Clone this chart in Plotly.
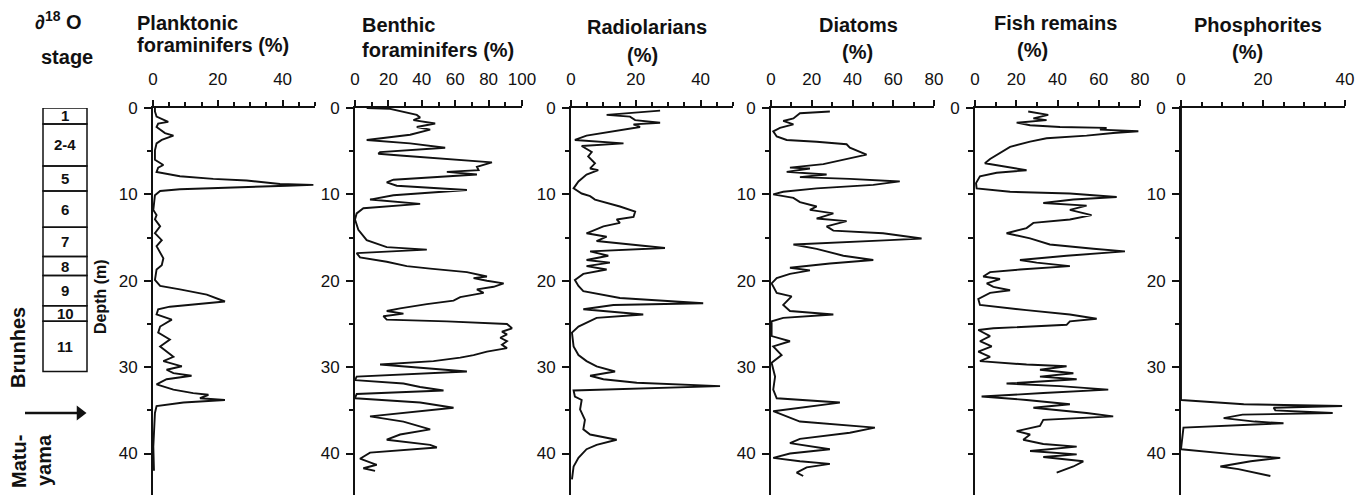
import plotly.graph_objects as go

W, H = 1365, 495

# ---------------- data ----------------
plank_depth = [0.0, 0.4, 1.0, 1.6, 1.8, 2.2, 2.9, 3.2, 3.7, 4.1, 4.9, 6.0, 6.6, 6.9, 7.4, 7.9, 8.2, 8.4, 8.8, 8.9,
               9.0, 9.2, 9.4, 9.6, 10.1, 11.8, 12.4, 12.9, 13.7, 14.5, 15.3, 16.0, 17.4, 18.2, 18.7, 19.9, 20.6,
               21.0, 21.6, 22.4, 22.7, 23.0, 23.3, 23.9, 24.5, 25.3, 26.0, 26.8, 27.6, 28.2, 28.8, 29.3, 29.9,
               30.3, 30.7, 31.0, 31.4, 32.0, 32.6, 33.0, 33.2, 33.6, 33.8, 34.1, 34.5, 35.3, 37.2, 39.2, 42.0]
plank_pct = [0.6, 0.6, 1.1, 4.7, 1.6, 1.1, 3.7, 6.3, 2.7, 1.1, 0.6, 0.6, 3.2, 1.6, 1.1, 8.3, 18.6, 28.9, 39.2, 49.5,
             41.3, 23.8, 8.3, 2.2, 0.6, 0.1, 1.1, 0.6, 2.2, 0.6, 2.7, 1.1, 3.2, 2.7, 1.1, 0.6, 2.2,
             8.3, 16.6, 22.2, 13.5, 5.2, 1.6, 1.1, 5.8, 2.2, 1.6, 5.2, 2.2, 4.2, 6.3, 3.2, 8.9,
             4.2, 6.3, 11.9, 4.2, 1.1, 6.3, 12.4, 17.1, 14.5, 22.2, 9.4, 1.1, 0.6, 0.3, 0.1, 0.3]

benth_depth = [0.0, 0.1, 0.8, 1.1, 1.4, 1.8, 2.2, 2.5, 3.1, 3.7, 4.1, 4.6, 5.1, 5.3, 5.5, 6.0, 6.3, 6.8, 7.2, 7.4,
               7.7, 8.3, 8.6, 9.0, 9.5, 10.1, 10.6, 11.1, 11.6, 12.2, 12.9, 14.1, 15.3, 16.1, 16.4, 16.8, 17.3,
               17.8, 18.3, 18.6, 19.0, 19.5, 19.7, 20.0, 20.3, 20.7, 21.0, 21.4, 21.9, 22.3, 22.7, 23.2, 23.5,
               23.8, 24.1, 24.5, 24.7, 25.0, 25.5, 25.9, 26.2, 26.6, 27.0, 27.4, 27.8, 28.2, 28.6, 28.9, 29.3,
               29.7, 30.5, 31.1, 31.5, 31.9, 32.3, 32.7, 33.1, 33.6, 34.1, 34.7, 35.7, 36.3, 37.2, 37.8, 38.4,
               39.0, 39.3, 39.9, 40.6, 41.3, 41.7, 42.0]
benth_pct = [7, 21, 37, 39, 35, 48, 37, 45, 33, 7, 33, 54, 15, 14, 27, 59, 82, 73, 74, 55,
             73, 23, 19, 25, 67, 23, 9, 39, 5, 1, 0, 2, 7, 19, 43, 1, 3,
             19, 31, 45, 67, 79, 71, 79, 89, 83, 73, 77, 63, 59, 43, 27, 19,
             29, 17, 19, 55, 91, 94, 88, 91, 87, 91, 88, 91, 79, 71, 63, 47,
             15, 67, 1, 0, 29, 39, 53, 1, 0, 39, 59, 9, 29, 45, 27, 19,
             45, 49, 9, 3, 13, 5, 12]

radio_depth = [0.3, 0.8, 1.0, 1.4, 1.7, 1.9, 2.2, 2.5, 2.8, 3.2, 3.7, 4.1, 4.4, 5.1, 5.6, 6.4, 7.0, 7.2, 7.7,
               8.5, 9.3, 9.9, 10.2, 10.6, 11.4, 12.0, 12.6, 12.9, 13.3, 13.7, 14.5, 14.9, 15.4, 16.2, 16.6,
               17.1, 17.6, 17.9, 18.3, 18.7, 19.2, 19.9, 20.6, 21.2, 22.0, 22.6, 22.8, 23.3, 23.9, 24.3, 25.3,
               26.0, 27.6, 28.6, 29.3, 29.9, 30.5, 31.0, 31.4, 31.8, 32.2, 32.4, 32.7, 33.4, 33.8, 34.9, 36.1,
               37.2, 37.8, 38.4, 39.0, 39.5, 40.5, 41.5, 43.0]
radio_pct = [27.5, 11, 18.2, 19.8, 27.5, 19.3, 21.3, 16.2, 11, 4.8, 1.2, 16.2, 3.3, 6.4, 5.3, 7.4, 5.9, 8.4, 4.8,
             2.3, 0.8, 3.3, 5.9, 7.4, 15.1, 19.8, 19.3, 14.1, 15.1, 10, 4.8, 11, 7.9, 29, 5.9,
             11.5, 4.8, 12, 4.8, 11, 3.8, 1.2, 2.3, 3.8, 15.1, 40.8, 13.1, 3.8, 22.3, 7.9, 2.3,
             0.3, 0.8, 2.3, 4.8, 7.9, 13.6, 5.9, 10, 20.3, 46, 30.6, 0.8, 1.2, 3.3, 2.8, 4.3,
             3.8, 5.9, 14.1, 7.9, 4.8, 2.3, 0.8, 0.3]

diat_depth = [0.4, 0.6, 1.2, 1.5, 1.9, 2.3, 2.7, 3.3, 3.7, 3.9, 4.2, 4.6, 5.4, 5.9, 6.5, 6.9, 7.0, 7.4, 7.7, 8.0,
              8.2, 8.5, 8.9, 9.3, 9.7, 10.0, 10.4, 10.9, 11.4, 11.8, 12.2, 12.8, 13.1, 13.7, 14.2, 14.5, 15.1,
              15.3, 15.8, 16.3, 17.1, 17.6, 18.0, 18.5, 18.8, 19.2, 19.7, 20.3, 21.4, 21.8, 22.8, 23.5, 23.9,
              24.3, 24.7, 26.4, 27.0, 27.6, 28.6, 29.5, 31.1, 32.6, 33.6, 34.1, 35.1, 36.3, 36.8, 37.0, 37.6,
              38.3, 38.8, 39.5, 40.0, 40.5, 40.9, 41.2, 41.6, 42.2, 42.6]
diat_pct = [28.9, 14.2, 11, 6, 11, 4.4, 1.1, 2.8, 7.7, 22.4, 37.1, 38.7, 46.9, 37.1, 25.7, 9.3, 19.1, 7.7, 27.3, 14.2,
            38.7, 63.2, 50.2, 22.4, 6, 1.1, 11, 14.2, 22.4, 19.1, 30.6, 22.4, 37.1, 27.3, 30.6, 55, 73.9,
            58.3, 11, 22.4, 35.5, 50.2, 28.9, 9.3, 19.1, 9.3, 2.8, 0.3, 2.8, 10.1, 6, 9.3, 30.6,
            6, 0.3, 0.3, 9.3, 1.1, 5.2, 0.3, 2, 1.1, 2.8, 33.8, 1.1, 14.2, 38.7, 51, 38.7,
            14.2, 9.3, 28.9, 9.3, 1.1, 14.2, 28.9, 17.5, 12.6, 15.8]

fish_depth = [0.4, 0.8, 1.2, 1.4, 1.7, 2.0, 2.2, 2.3, 2.5, 2.7, 2.9, 3.2, 3.5, 3.9, 4.5, 5.2, 5.9, 6.4, 6.8, 7.2,
              7.5, 7.9, 8.7, 9.3, 9.7, 9.9, 10.3, 10.6, 11.0, 11.3, 11.8, 12.4, 12.9, 13.3, 13.9, 14.5, 15.1,
              15.8, 16.3, 16.6, 17.1, 17.6, 17.9, 18.3, 18.7, 19.0, 19.5, 19.8, 20.3, 20.7, 21.1, 21.4, 22.1,
              22.8, 23.4, 23.9, 24.4, 24.7, 25.1, 25.5, 25.7, 26.4, 27.0, 27.6, 28.2, 28.8, 29.3, 29.7, 29.9,
              30.3, 30.7, 31.1, 31.4, 31.9, 32.2, 32.6, 33.0, 33.4, 33.8, 34.3, 34.7, 35.3, 35.7, 36.1, 36.8,
              37.4, 37.8, 38.4, 38.9, 39.2, 39.7, 40.1, 40.4, 40.9, 41.5, 42.2]
fish_pct = [25.8, 35.5, 28.3, 34.7, 20.2, 26.7, 41.2, 63.8, 60.6, 79.2, 67, 54.1, 34.7, 26.7, 17, 12.1, 7.3, 4.8, 15.3, 25,
            10.5, 2.4, 0.5, 0.8, 17, 46, 68.7, 47.7, 33.1, 54.1, 46, 56.5, 46, 28.3, 25, 15.3, 26.7,
            36.3, 57.4, 72.7, 44.4, 21.8, 29.9, 46, 21.8, 7.3, 4, 12.1, 5.7, 8.9, 17, 7.3, 1.6,
            2.4, 25, 46, 59, 46, 44.4, 8.9, 1.6, 7.3, 2.4, 8.1, 1.6, 7.3, 2.4, 25, 44.4,
            31.5, 47.7, 31.5, 49.3, 15.3, 41.2, 64.6, 33.1, 3.2, 25, 46, 28.3, 54.1, 67, 33.1, 31.5,
            20.2, 26.7, 23.4, 33.1, 49.3, 26.7, 49.3, 33.1, 52.5, 47.7, 39.6]

phos_depth = [0.0, 33.8, 34.3, 34.5, 34.7, 35.0, 35.3, 35.5, 35.9, 36.3, 36.5, 37.0, 39.5, 40.1, 40.5, 40.9, 41.5,
              41.8, 42.6]
phos_pct = [0.0, 0.0, 15.3, 39.3, 22.6, 23.0, 37.0, 15.0, 10.4, 18.0, 25.0, 0.6, 0.0, 13.0, 24.2, 17.0, 9.6,
            14.0, 21.8]

stage_labels = ["1", "2-4", "5", "6", "7", "8", "9", "10", "11"]
stage_bounds = [0.0, 1.85, 6.7, 9.6, 13.8, 17.2, 19.4, 22.9, 24.7, 30.5]
brunhes_matuyama_depth = 35.3

panel_titles = [
    ("Planktonic", "foraminifers (%)"),
    ("Benthic", "foraminifers (%)"),
    ("Radiolarians", "(%)"),
    ("Diatoms", "(%)"),
    ("Fish remains", "(%)"),
    ("Phosphorites", "(%)"),
]
x_ranges = [[0, 50], [0, 100], [0, 50], [0, 80], [0, 80], [0, 40]]
x_tickvals = [[0, 20, 40], [0, 20, 40, 60, 80, 100], [0, 20, 40], [0, 20, 40, 60, 80], [0, 20, 40, 60, 80],
              [0, 20, 40]]
x_minor = [5, 10, 5, 10, 10, 5]
depth_ticks = [0, 10, 20, 30, 40]
depth_range = [44.8, 0]

series = [
    (plank_depth, plank_pct),
    (benth_depth, benth_pct),
    (radio_depth, radio_pct),
    (diat_depth, diat_pct),
    (fish_depth, fish_pct),
    (phos_depth, phos_pct),
]

# ---------------- layout geometry (pixels) ----------------
panel_px = [(153, 315), (355, 522), (571, 733), (771, 934), (975, 1140), (1181, 1345)]
stage_px = (43, 87)
top_px = 108
FONT = "Liberation Sans, Arial, Helvetica, sans-serif"
BLACK = "#111111"


def px(x):
    return x / W


def py(y):
    return 1 - y / H


fig = go.Figure()
layout = dict(
    width=W, height=H, autosize=False,
    margin=dict(l=0, r=0, t=0, b=0, autoexpand=False),
    paper_bgcolor="white", plot_bgcolor="white",
    showlegend=False,
    font=dict(family=FONT, color=BLACK, size=17),
)

ydom = [0, py(top_px)]
for i, ((d, v), (x0, x1)) in enumerate(zip(series, panel_px)):
    n = i + 1
    xa = "x" if n == 1 else f"x{n}"
    ya = "y" if n == 1 else f"y{n}"
    fig.add_trace(go.Scatter(x=v, y=d, mode="lines", xaxis=xa, yaxis=ya,
                             line=dict(color=BLACK, width=1.9), hoverinfo="skip"))
    layout[f"xaxis{'' if n == 1 else n}"] = dict(
        domain=[px(x0), px(x1)], range=x_ranges[i], anchor=ya, side="top",
        showline=True, linewidth=2, linecolor=BLACK, mirror=False,
        showgrid=False, zeroline=False, automargin=False,
        tickmode="array", tickvals=x_tickvals[i], ticks="outside", ticklen=6, tickwidth=1.5,
        tickcolor=BLACK, tickfont=dict(size=17, family=FONT, color=BLACK),
        ticklabelstandoff=8,
        minor=dict(dtick=x_minor[i], tick0=0, ticks="outside", ticklen=4, tickwidth=1.5, tickcolor=BLACK),
        fixedrange=True,
    )
    tv = depth_ticks if n != 5 else [0]
    layout[f"yaxis{'' if n == 1 else n}"] = dict(
        domain=ydom, range=depth_range, anchor=xa,
        showline=True, linewidth=2, linecolor=BLACK,
        showgrid=False, zeroline=False, automargin=False,
        tickmode="array", tickvals=tv,
        ticks="outside", ticklen=7, tickwidth=1.5, tickcolor=BLACK,
        tickfont=dict(size=17, family=FONT, color=BLACK),
        ticklabelstandoff=3,
        minor=dict(dtick=5, tick0=0, ticks="outside", ticklen=5 if n == 5 else 4, tickwidth=1.5,
                   tickcolor=BLACK),
        fixedrange=True,
    )

# stage column axes (x range spans from paper left edge to right side of the stage box)
sx0, sx1 = stage_px
layout["xaxis7"] = dict(domain=[0, px(sx1 + 2)], range=[-sx0 / (sx1 - sx0), (sx1 + 2 - sx0) / (sx1 - sx0)],
                        anchor="y7", visible=False, fixedrange=True)
layout["yaxis7"] = dict(domain=ydom, range=depth_range, anchor="x7", visible=False, fixedrange=True)

# Brunhes/Matuyama arrow drawn as a line with a triangular head
arrow_x = [(25 - sx0) / (sx1 - sx0), (80 - sx0) / (sx1 - sx0)]
fig.add_trace(go.Scatter(x=arrow_x, y=[brunhes_matuyama_depth] * 2, xaxis="x7", yaxis="y7", mode="lines",
                         line=dict(color=BLACK, width=2.5), hoverinfo="skip"))
fig.add_trace(go.Scatter(x=[(80 - sx0) / (sx1 - sx0)], y=[brunhes_matuyama_depth], xaxis="x7", yaxis="y7",
                         mode="markers", marker=dict(symbol="triangle-right", size=13, color=BLACK),
                         hoverinfo="skip", cliponaxis=False))

shapes = []
annotations = []
for j, lab in enumerate(stage_labels):
    top, bot = stage_bounds[j], stage_bounds[j + 1]
    shapes.append(dict(type="rect", xref="x7", yref="y7", x0=0, x1=1, y0=top, y1=bot,
                       line=dict(color=BLACK, width=1.5), fillcolor="rgba(0,0,0,0)"))
    annotations.append(dict(xref="x7", yref="y7", x=0.5, y=(top + bot) / 2, text=f"<b>{lab}</b>",
                            showarrow=False, font=dict(size=15, family=FONT, color=BLACK),
                            xanchor="center", yanchor="middle"))


def txt(x, y, s, size=20, anchor="left", angle=0):
    annotations.append(dict(xref="paper", yref="paper", x=px(x), y=py(y), text=s, showarrow=False,
                            xanchor=anchor, yanchor="middle", textangle=angle,
                            font=dict(size=size, family=FONT, color=BLACK)))


txt(33, 20, "<b>∂<sup>18</sup> O</b>", 20)
txt(39, 57, "<b>stage</b>", 20)
txt(100, 297, "<b>Depth (m)</b>", 16, "center", -90)
txt(18, 348, "<b>Brunhes</b>", 20, "center", -90)
txt(19, 462, "<b>Matu-</b>", 20, "center", -90)
txt(44, 460, "<b>yama</b>", 20, "center", -90)

title_pos = [
    ((135, 23, "left"), (135, 45, "left")),
    ((360, 25, "left"), (360, 50, "left")),
    ((647, 27, "center"), (642, 55, "center")),
    ((858, 25, "center"), (857, 52, "center")),
    ((1055, 23, "center"), (1032, 50, "center")),
    ((1258, 25, "center"), (1247, 52, "center")),
]
for (l1, l2), ((x1, y1, a1), (x2, y2, a2)) in zip(panel_titles, title_pos):
    txt(x1, y1, f"<b>{l1}</b>", 20, a1)
    txt(x2, y2, f"<b>{l2}</b>", 20, a2)

layout["shapes"] = shapes
layout["annotations"] = annotations
fig.update_layout(**layout)
fig.write_html("out.html", config={"displayModeBar": False},
               post_script="document.body.style.margin='0px';document.body.style.overflow='hidden';")
